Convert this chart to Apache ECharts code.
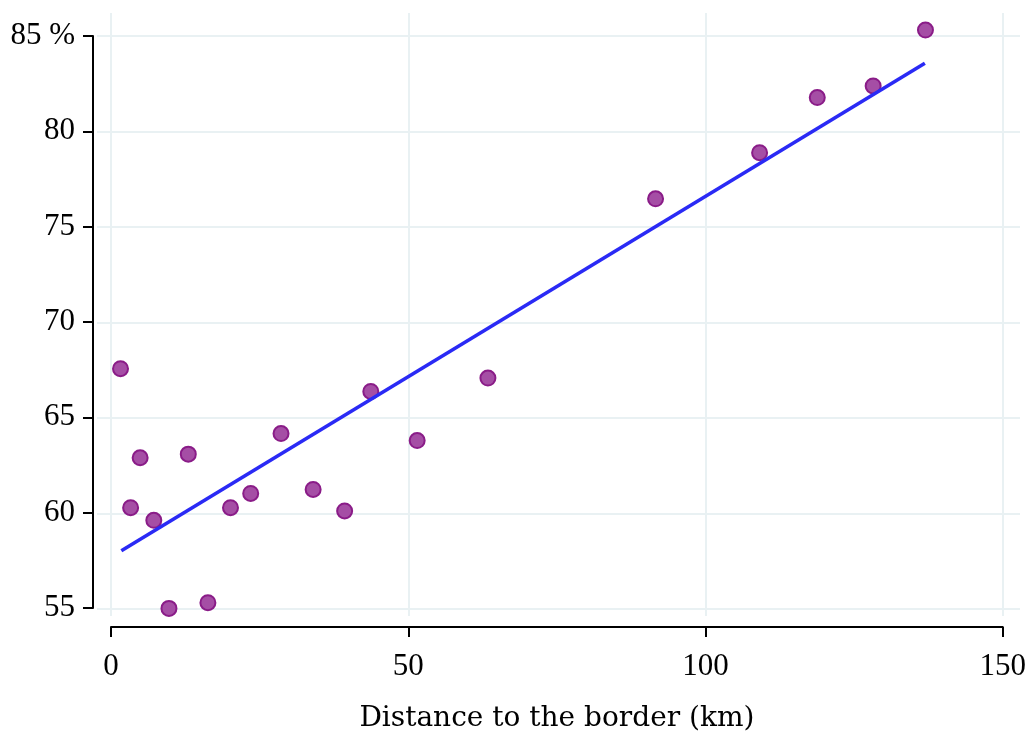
<!DOCTYPE html>
<html>
<head>
<meta charset="utf-8">
<script src="https://cdn.jsdelivr.net/npm/echarts@6/dist/echarts.min.js"></script>
<style>
html,body{margin:0;padding:0;background:#fff;}
#chart{width:1029px;height:738px;}
</style>
</head>
<body>
<div id="chart"></div>
<script>
// Data
const distance = [1.6, 3.3, 4.9, 7.2, 9.75, 13.0, 16.3, 20.1, 23.5, 28.6, 34.0, 39.3, 43.7, 51.5, 63.4, 91.6, 109.1, 118.8, 128.2, 137.0];
const share    = [67.55, 60.26, 62.88, 59.60, 54.98, 63.07, 55.28, 60.26, 61.01, 64.15, 61.22, 60.09, 66.36, 63.78, 67.06, 76.46, 78.88, 81.77, 82.38, 85.31];
const fitX = [1.74, 136.9];
const fitY = [58.0, 83.57];
const xTicks = [0, 50, 100, 150];
const yTicks = [55, 60, 65, 70, 75, 80, 85];
const yTickLabels = ['55', '60', '65', '70', '75', '80', '85 %'];
const xTitle = 'Distance to the border (km)';

const TICKFONT = 'Liberation Serif';
const TITLEFONT = 'DejaVu Serif';
const points = distance.map((d, i) => [d, share[i]]);
const fitLine = fitX.map((d, i) => [d, fitY[i]]);

const chart = echarts.init(document.getElementById('chart'), null, {renderer: 'canvas'});
chart.setOption({
  backgroundColor: '#ffffff',
  animation: false,
  grid: [
    {left: 111, right: 26, top: 36, bottom: 129},
    {left: 97, right: 9, top: 13, bottom: 122}
  ],
  xAxis: [
    {
      gridIndex: 0, type: 'value', min: 0, max: 150, interval: 50,
      offset: 19,
      name: xTitle, nameLocation: 'middle', nameGap: 78,
      nameTextStyle: {fontFamily: TITLEFONT, fontSize: 28, color: '#000'},
      axisLine: {show: true, onZero: false, lineStyle: {color: '#000', width: 2}},
      axisTick: {show: true, length: 10, lineStyle: {color: '#000', width: 2}},
      axisLabel: {fontFamily: TICKFONT, fontSize: 31, color: '#000', margin: 24},
      splitLine: {show: false}
    },
    {gridIndex: 1, type: 'value', min: -2.354, max: 152.85, show: false, splitLine: {show: false}}
  ],
  yAxis: [
    {
      gridIndex: 0, type: 'value', min: 55, max: 85, interval: 5,
      offset: 18,
      axisLine: {show: true, onZero: false, lineStyle: {color: '#000', width: 2}},
      axisTick: {show: true, length: 10, lineStyle: {color: '#000', width: 2}},
      axisLabel: {
        fontFamily: TICKFONT, fontSize: 31, color: '#000', margin: 18,
        formatter: v => { const i = yTicks.indexOf(v); return i >= 0 ? yTickLabels[i] : ''; }
      },
      splitLine: {show: false}
    },
    {gridIndex: 1, type: 'value', min: 54.634, max: 86.203, show: false, splitLine: {show: false}}
  ],
  series: [
    {
      type: 'line', xAxisIndex: 1, yAxisIndex: 1, data: [], silent: true, z: 0,
      markLine: {
        silent: true, symbol: ['none', 'none'], animation: false, z: 0,
        label: {show: false},
        lineStyle: {color: '#e9f1f3', width: 2, type: 'solid'},
        data: xTicks.map(v => ({xAxis: v})).concat(yTicks.map(v => ({yAxis: v})))
      }
    },
    {
      type: 'scatter', xAxisIndex: 0, yAxisIndex: 0, data: points, z: 2, clip: false,
      symbol: 'circle', symbolSize: 15,
      itemStyle: {color: '#a54ea5', borderColor: '#8a1c88', borderWidth: 2, opacity: 1}
    },
    {
      type: 'line', xAxisIndex: 0, yAxisIndex: 0, data: fitLine, z: 3, clip: false,
      showSymbol: false, symbol: 'none',
      lineStyle: {color: '#2a2af5', width: 3.6}
    }
  ]
});
</script>
</body>
</html>
